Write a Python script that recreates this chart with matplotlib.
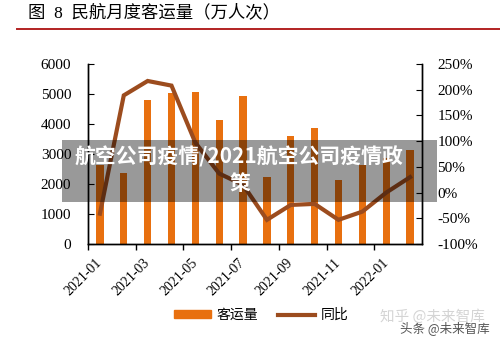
import matplotlib

matplotlib.use("Agg")
import matplotlib.pyplot as plt  # noqa: E402
from matplotlib.lines import Line2D  # noqa: E402
from matplotlib.patches import Patch, Rectangle  # noqa: E402
import numpy as np  # noqa: E402

plt.rcParams["font.family"] = ["Liberation Serif", "DejaVu Serif", "Noto Sans CJK SC"]
plt.rcParams["axes.unicode_minus"] = False

# 民航月度客运量（万人次）与同比
months = ["2021-01", "2021-02", "2021-03", "2021-04", "2021-05", "2021-06", "2021-07",
          "2021-08", "2021-09", "2021-10", "2021-11", "2021-12", "2022-01", "2022-02"]
passengers = [2640, 2380, 4790, 5050, 5080, 4120, 4920,
              2220, 3600, 3880, 2150, 2650, 2870, 3130]
yoy_pct = [-41, 189, 217, 208, 97, 37, 15, -53, -24, -22, -53, -37, 0, 30]

left_ticks = [0, 1000, 2000, 3000, 4000, 5000, 6000]
right_ticks = [-100, -50, 0, 50, 100, 150, 200, 250]

BAR_C = "#E8700F"
LINE_C = "#9C4C1E"

fig = plt.figure(figsize=(5.0, 3.43), dpi=100)
ax = fig.add_axes([0.176, 0.2886, 0.668, 0.5248])
ax2 = ax.twinx()

x = np.arange(len(months))
ax.bar(x, passengers, width=0.3, color=BAR_C)
ax2.plot(x, yoy_pct, color=LINE_C, lw=3.0, solid_joinstyle="miter")

ax.set_xlim(-0.5, len(months) - 0.5)
ax.set_ylim(0, 6000)
ax.set_yticks(left_ticks)
ax.set_yticklabels([str(v) for v in left_ticks], fontsize=11)
ax2.set_ylim(-100, 250)
ax2.set_yticks(right_ticks)
ax2.set_yticklabels([f"{v}%" for v in right_ticks], fontsize=11)

ax.set_xticks(x[::2])
ax.set_xticklabels(months[::2], rotation=45, ha="right", va="center",
                   rotation_mode="anchor", fontsize=10)
ax.set_xticks(x[::2] - 0.5, minor=True)
ax.tick_params(axis="x", which="major", length=0, pad=12)
ax.tick_params(axis="x", which="minor", length=4, direction="out", width=1)
ax.tick_params(axis="y", direction="in", length=4, pad=12)
ax2.tick_params(axis="y", direction="in", length=4, pad=11)

for a in (ax, ax2):
    a.spines["top"].set_visible(False)
    for s in ("left", "right", "bottom"):
        a.spines[s].set_linewidth(1.0)

handles = [Patch(color=BAR_C), Line2D([0], [0], color=LINE_C, lw=3.0)]
fig.legend(handles, ["客运量", "同比"], loc="center", bbox_to_anchor=(0.522, 0.08),
           ncol=2, frameon=False, fontsize=10, handlelength=2.7, handleheight=0.55,
           columnspacing=1.4, handletextpad=0.4)

# title and red rule
fig.text(0.056, 0.962, "图  8  民航月度客运量（万人次）", fontsize=12.5, va="center", ha="left")
fig.add_artist(Line2D([0.034, 1.0], [0.915, 0.915], color="#B22222", lw=1.4))

# grey banner over the chart
fig.add_artist(Rectangle((0.124, 1 - 202 / 343), (437 - 62) / 500, 62 / 343,
                         transform=fig.transFigure, color="black", alpha=0.4, lw=0))
fig.text(0.477, 1 - 157 / 343, "航空公司疫情/2021航空公司疫情政", color="white",
         fontsize=15, fontweight="bold", ha="center", va="center",
         family=["Noto Sans CJK SC"])
fig.text(0.48, 1 - 184 / 343, "策", color="white", fontsize=15, fontweight="bold",
         ha="center", va="center", family=["Noto Sans CJK SC"])

# watermarks
fig.text(0.76, 1 - 317 / 343, "知乎 @未来智库", color="#d4d4d4", fontsize=10.5,
         ha="left", va="center", family=["Noto Sans CJK SC"])
fig.text(0.80, 1 - 328 / 343, "头条 @未来智库", color="#555555", fontsize=9,
         ha="left", va="center", family=["Noto Sans CJK SC"])

fig.savefig("out.png", dpi=100)
